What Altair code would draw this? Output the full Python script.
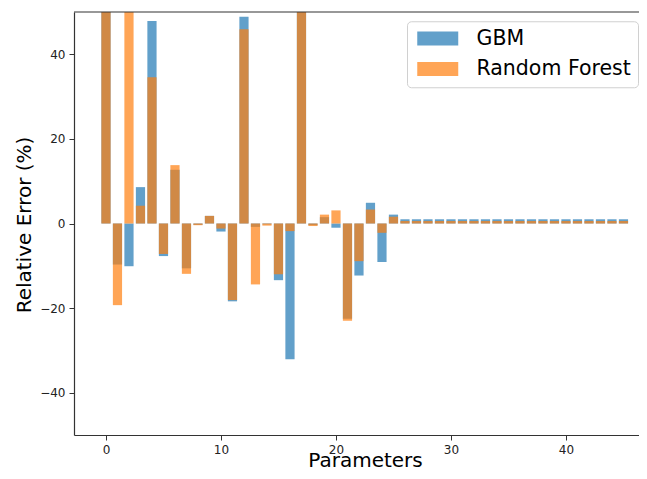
import altair as alt
import pandas as pd

params = list(range(46))
models = ["GBM", "Random Forest"]
colors = ["#1f77b4", "#ff7f0e"]

gbm = [95.0, -9.7, -10.1, 8.6, 47.9, -7.7, 12.7, -10.6, -0.3, 1.8,
       -1.9, -18.4, 48.9, -0.8, -0.2, -13.4, -32.1, 80.0, -0.4, 1.5,
       -1.0, -22.5, -12.3, 4.9, -9.1, 2.1, 1.0, 1.0, 1.0, 1.0,
       1.0, 1.0, 1.0, 1.0, 1.0, 1.0, 1.0, 1.0, 1.0, 1.0,
       1.0, 1.0, 1.0, 1.0, 1.0, 1.0]
rf = [90.0, -19.3, 120.0, 4.2, 34.6, -7.2, 13.8, -11.9, -0.4, 1.8,
      -1.2, -18.1, 45.9, -14.4, -0.5, -12.0, -1.8, 75.0, -0.6, 2.1,
      3.1, -23.0, -8.9, 3.3, -2.2, 1.6, 0.6, 0.6, 0.6, 0.6,
      0.6, 0.6, 0.6, 0.6, 0.6, 0.6, 0.6, 0.6, 0.6, 0.6,
      0.6, 0.6, 0.6, 0.6, 0.6, 0.6]

x_ticks = [0, 10, 20, 30, 40]
y_ticks = [-40, -20, 0, 20, 40]

rows = []
for m, vals in zip(models, [gbm, rf]):
    for p, v in zip(params, vals):
        rows.append({"param": p, "model": m, "value": v})
df = pd.DataFrame(rows)

W, H = 565, 423
FONT = "DejaVu Sans"

bars = alt.Chart(df).transform_calculate(
    x0="datum.param - 0.4", x1="datum.param + 0.4"
).mark_bar(opacity=0.7, clip=True).encode(
    x=alt.X("x0:Q",
            scale=alt.Scale(domain=[-2.78, 46.35], nice=False, zero=False),
            axis=alt.Axis(values=x_ticks, title="Parameters", titleX=291,
                          titleY=31.5, titleBaseline="alphabetic")),
    x2="x1:Q",
    y=alt.Y("value:Q",
            scale=alt.Scale(domain=[-50, 50], nice=False),
            axis=alt.Axis(values=y_ticks, title="Relative Error (%)",
                          titleX=-50, titleY=212.5, titleBaseline="middle")),
    y2=alt.datum(0),
    color=alt.Color("model:N",
                    scale=alt.Scale(domain=models, range=colors),
                    title=None,
                    legend=alt.Legend(
                        orient="none", legendX=333, legendY=9.25,
                        direction="vertical", fillColor="white",
                        strokeColor="#d0d0d0", cornerRadius=4, padding=7,
                        labelFontSize=20.5, labelFont=FONT, labelColor="black",
                        symbolType="M-1,-1H4.857V1H-1Z", symbolSize=196,
                        symbolOpacity=0.7, symbolStrokeWidth=0,
                        labelOffset=42, rowPadding=9.5)),
)

top = alt.Chart(pd.DataFrame({"a": [0]})).mark_rule(
    color="#333", strokeWidth=1.2
).encode(x=alt.value(0), x2=alt.value(W), y=alt.value(0))

chart = alt.layer(bars, top).properties(
    width=W, height=H,
    autosize=alt.AutoSizeParams(type="none"),
    padding={"left": 66, "top": 4, "right": 0, "bottom": 36},
).configure_view(stroke=None).configure_axis(
    domainColor="#333", domainWidth=1.2, tickColor="#333", tickSize=5,
    labelFont=FONT, labelFontSize=12, labelColor="#222", labelPadding=4,
    grid=False, titleFont=FONT, titleFontSize=20, titleFontWeight="normal",
    titleColor="black",
)

chart.save("out.html", embed_options={"renderer": "svg", "actions": False})
